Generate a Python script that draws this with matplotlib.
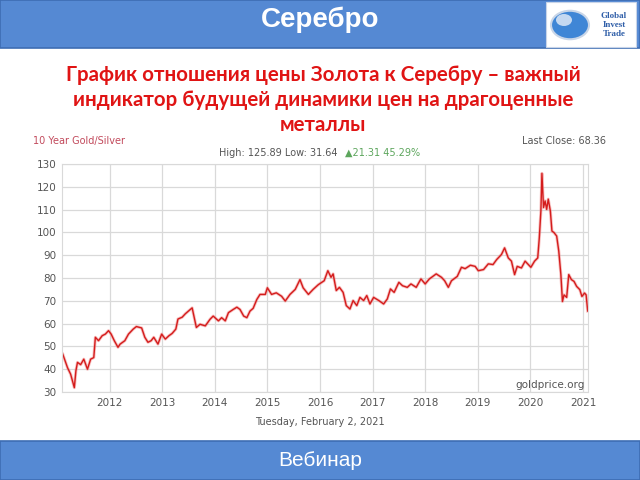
import matplotlib
matplotlib.use("Agg")
import matplotlib.pyplot as plt
from matplotlib.patches import Rectangle, Circle

# gold/silver ratio (decimal year, ratio)
years = [2011.11, 2011.20, 2011.26, 2011.33, 2011.36, 2011.39, 2011.45, 2011.51, 2011.58, 2011.64,
         2011.70, 2011.73, 2011.79, 2011.86, 2011.92, 2011.98, 2012.03, 2012.09, 2012.16, 2012.20,
         2012.29, 2012.36, 2012.45, 2012.51, 2012.61, 2012.67, 2012.73, 2012.79, 2012.84, 2012.92,
         2012.99, 2013.06, 2013.13, 2013.19, 2013.26, 2013.30, 2013.38, 2013.44, 2013.51, 2013.57,
         2013.65, 2013.72, 2013.82, 2013.91, 2013.97, 2014.07, 2014.13, 2014.20, 2014.26, 2014.35,
         2014.42, 2014.48, 2014.55, 2014.61, 2014.67, 2014.73, 2014.80, 2014.86, 2014.96, 2015.00,
         2015.08, 2015.17, 2015.27, 2015.34, 2015.43, 2015.53, 2015.62, 2015.68, 2015.78, 2015.87,
         2015.97, 2016.08, 2016.15, 2016.21, 2016.25, 2016.31, 2016.37, 2016.44, 2016.50, 2016.57,
         2016.63, 2016.70, 2016.76, 2016.83, 2016.89, 2016.95, 2017.02, 2017.12, 2017.21, 2017.28,
         2017.34, 2017.41, 2017.50, 2017.57, 2017.66, 2017.73, 2017.83, 2017.92, 2018.00, 2018.08,
         2018.21, 2018.31, 2018.37, 2018.44, 2018.50, 2018.61, 2018.69, 2018.76, 2018.86, 2018.95,
         2019.01, 2019.11, 2019.20, 2019.29, 2019.36, 2019.45, 2019.51, 2019.58, 2019.64, 2019.70,
         2019.75, 2019.83, 2019.90, 2019.96, 2020.01, 2020.08, 2020.14, 2020.17, 2020.20, 2020.22,
         2020.25, 2020.28, 2020.31, 2020.34, 2020.38, 2020.41, 2020.45, 2020.50, 2020.54, 2020.58,
         2020.61, 2020.64, 2020.69, 2020.73, 2020.78, 2020.83, 2020.88, 2020.94, 2020.98, 2021.03,
         2021.06, 2021.09]
ratio = [46.6, 40.7, 37.8, 31.9, 39.3, 43.0, 42.0, 44.4, 40.0, 44.4,
         45.1, 54.0, 52.5, 54.7, 55.4, 56.9, 55.4, 52.5, 49.6, 51.0,
         52.5, 55.4, 57.6, 58.7, 58.1, 54.0, 51.8, 52.5, 54.0, 51.0,
         55.4, 53.2, 54.7, 55.7, 57.6, 62.0, 62.8, 64.3, 65.7, 66.9,
         58.3, 59.7, 59.0, 61.9, 63.3, 61.2, 62.6, 61.2, 64.8, 66.2,
         67.2, 66.2, 63.3, 62.6, 65.5, 66.7, 70.6, 72.8, 72.8, 75.7,
         72.8, 73.5, 72.0, 69.9, 72.8, 75.0, 79.3, 75.7, 72.8, 75.0,
         77.1, 78.8, 83.2, 80.3, 81.8, 74.5, 75.9, 73.7, 67.9, 66.4,
         70.1, 67.9, 71.5, 70.1, 72.3, 68.6, 71.5, 70.1, 68.6, 70.8,
         75.2, 73.7, 78.1, 76.6, 75.9, 77.4, 75.9, 79.6, 77.4, 79.6,
         81.8, 80.3, 78.8, 75.9, 78.8, 80.7, 84.7, 84.1, 85.6, 85.1,
         83.2, 83.7, 86.2, 85.9, 88.1, 90.3, 93.2, 88.8, 87.4, 81.5,
         85.1, 84.4, 87.4, 85.9, 84.7, 87.4, 88.8, 97.6, 109.4, 125.9,
         110.9, 113.8, 110.1, 114.6, 109.4, 100.6, 99.9, 98.4, 91.8, 81.5,
         69.7, 72.6, 71.5, 81.5, 79.3, 78.5, 76.3, 74.9, 71.9, 73.4,
         72.6, 65.5]

year_ticks = [2012, 2013, 2014, 2015, 2016, 2017, 2018, 2019, 2020, 2021]
y_ticks = [30, 40, 50, 60, 70, 80, 90, 100, 110, 120, 130]

W, H = 640, 480
blue = "#5589d3"
gray = "#555555"


def fx(px):
    return px / W


def fy(py):
    return 1 - py / H


fig = plt.figure(figsize=(6.4, 4.8), dpi=100)

# top and bottom banners
fig.patches.append(Rectangle((0, fy(48)), 1, 48 / H, transform=fig.transFigure,
                             facecolor=blue, edgecolor="#3d6db3", lw=1.2))
fig.patches.append(Rectangle((0, 0), 1, 39 / H, transform=fig.transFigure,
                             facecolor=blue, edgecolor="#3d6db3", lw=1.2))
fig.text(0.5, fy(20), "Серебро", color="white", fontsize=20, fontweight="bold",
         family="Liberation Sans", ha="center", va="center")
fig.text(0.5, fy(461), "Вебинар", color="white", fontsize=15,
         family="Liberation Sans", ha="center", va="center")

# logo box
fig.patches.append(Rectangle((fx(546), fy(47)), 90 / W, 45 / H, transform=fig.transFigure,
                             facecolor="white", edgecolor="#c8d4e8", lw=0.8))
fig.patches.append(Circle((fx(570), fy(25)), 19 / W, transform=fig.transFigure,
                          facecolor="#3f86d6", edgecolor="#c9d6e8", lw=1.5))
fig.patches.append(Circle((fx(564), fy(20)), 8 / W, transform=fig.transFigure,
                          facecolor="#e6eef8", edgecolor="none", alpha=0.8))
fig.text(fx(614), fy(25), "Global\nInvest\nTrade", color="#2f5ea8", fontsize=6.5,
         fontweight="bold", family="Liberation Serif", ha="center", va="center",
         linespacing=1.25)

# subtitle
fig.text(fx(323), fy(100), "График отношения цены Золота к Серебру – важный\n"
         "индикатор будущей динамики цен на драгоценные\nметаллы",
         color="#e01414", fontsize=14.8, fontweight="bold", family="Lato",
         ha="center", va="center", linespacing=1.32)

# chart
ax = fig.add_axes([fx(61.7), fy(392), (587.7 - 61.7) / W, (392 - 164) / H])
ax.plot(years, ratio, color="#f08080", lw=2.2, alpha=0.5)
ax.plot(years, ratio, color="#d41c1c", lw=1.0)
ax.set_xlim(2011.09, 2021.09)
ax.set_ylim(30, 130)
ax.set_xticks(year_ticks)
ax.set_yticks(y_ticks)
ax.grid(True, color="#d9d9d9", lw=0.9)
ax.tick_params(length=0, labelsize=7.5, colors=gray, pad=4)
for s in ax.spines.values():
    s.set_color("#d9d9d9")

fig.text(fx(33), fy(141), "10 Year Gold/Silver", color="#c24a5c", fontsize=7,
         ha="left", va="center")
fig.text(fx(219), fy(153), "High: 125.89 Low: 31.64", color=gray, fontsize=7,
         ha="left", va="center")
fig.text(fx(345), fy(153), "▲21.31 45.29%", color="#5da65d", fontsize=7,
         ha="left", va="center")
fig.text(fx(606), fy(141), "Last Close: 68.36", color=gray, fontsize=7,
         ha="right", va="center")
fig.text(fx(585), fy(385), "goldprice.org", color=gray, fontsize=7.5,
         ha="right", va="center")
fig.text(fx(320), fy(422), "Tuesday, February 2, 2021", color=gray, fontsize=7,
         ha="center", va="center")

fig.savefig("out.png", dpi=100)
